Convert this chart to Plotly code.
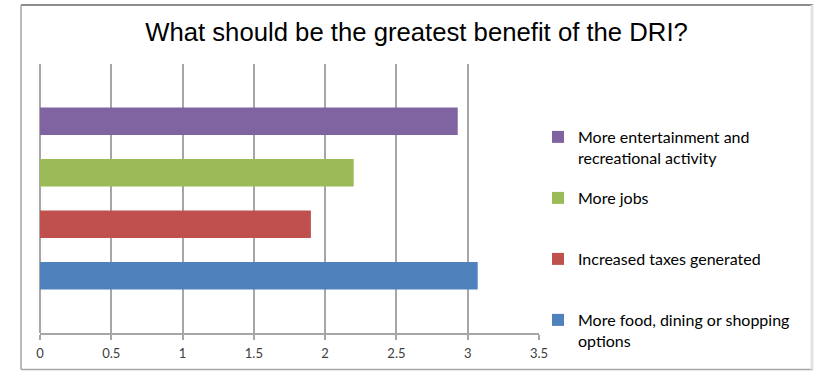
import plotly.graph_objects as go

# ---- data ----
categories = [
    "More food, dining or shopping options",
    "Increased taxes generated",
    "More jobs",
    "More entertainment and recreational activity",
]
legend_labels = [
    "More food, dining or shopping<br>options",
    "Increased taxes generated",
    "More jobs",
    "More entertainment and<br>recreational activity",
]
values = [3.07, 1.9, 2.2, 2.93]
colors = ["#4F81BD", "#C0504D", "#9BBB59", "#8064A2"]
x_ticks = [0, 0.5, 1, 1.5, 2, 2.5, 3, 3.5]
x_tick_text = ["0", "0.5", "1", "1.5", "2", "2.5", "3", "3.5"]
title_text = "What should be the greatest benefit of the DRI?"

W, H = 826, 371
L, R, T, B = 40, 539, 64, 333  # plot area in pixels


def px(xp):
    return (xp - L) / (R - L)


def py(yp):
    return (B - yp) / (B - T)


fig = go.Figure()
n = len(categories)
for i, (name, lab, v, c) in enumerate(zip(categories, legend_labels, values, colors)):
    if "<br>" not in lab:
        lab = lab + "<br>\u00a0"
    fig.add_trace(go.Bar(
        y=[""], x=[v], orientation="h", name=lab,
        marker=dict(color=c, line=dict(width=0)),
        legendgroup=name, legendrank=n - i, hoverinfo="x+name",
    ))

shapes = [
    dict(type="line", xref="paper", yref="paper", x0=px(21), x1=px(813), y0=py(5), y1=py(5),
         line=dict(color="#8c8c8c", width=2)),
    dict(type="line", xref="paper", yref="paper", x0=px(21), x1=px(21), y0=py(5), y1=py(369.5),
         line=dict(color="#a6a6a6", width=1.5)),
    dict(type="line", xref="paper", yref="paper", x0=px(21), x1=px(813), y0=py(369.5), y1=py(369.5),
         line=dict(color="#a6a6a6", width=1.5)),
    dict(type="line", xref="paper", yref="paper", x0=px(812), x1=px(812), y0=py(5), y1=py(369.5),
         line=dict(color="#e3e3e3", width=3)),
]

fig.update_layout(
    width=W, height=H,
    margin=dict(l=L, r=W - R, t=T, b=H - B, autoexpand=False),
    paper_bgcolor="white", plot_bgcolor="white",
    barmode="group", bargap=0.234, bargroupgap=0.466,
    title=dict(text=title_text, x=px(416.5), xref="paper", xanchor="center",
               y=1 - 32 / H, yanchor="middle",
               font=dict(family="Liberation Sans, Arial", size=25.7, color="#000000")),
    xaxis=dict(range=[0, 3.5], tickvals=x_ticks, ticktext=x_tick_text,
               showgrid=True, gridcolor="#a6a6a6", gridwidth=1.5,
               zeroline=True, zerolinecolor="#a6a6a6", zerolinewidth=1.5,
               showline=True, linecolor="#a6a6a6", linewidth=1.5,
               ticks="outside", ticklen=5, tickcolor="#a6a6a6", tickwidth=1.5,
               ticklabelstandoff=3,
               tickfont=dict(family="Lato", size=13, color="#404040"),
               fixedrange=True),
    yaxis=dict(showticklabels=False, showgrid=False, zeroline=False, showline=False,
               ticks="", fixedrange=True),
    legend=dict(traceorder="grouped", tracegroupgap=16.4, valign="top",
                x=px(538), xanchor="left", y=py(120), yanchor="top",
                font=dict(family="Lato", size=16, color="#000000"),
                bgcolor="rgba(0,0,0,0)"),
    shapes=shapes,
    showlegend=True,
)

fig.write_html("out.html")
